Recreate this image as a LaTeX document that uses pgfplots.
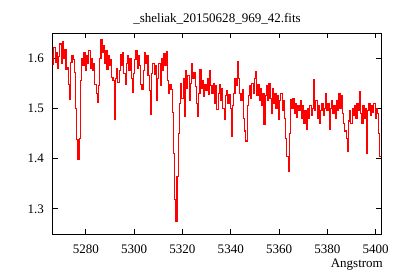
\documentclass[border=0pt]{standalone}
\usepackage{fontspec}
\setmainfont{Liberation Serif}
\usepackage{pgfplots}
\pgfplotsset{compat=1.18}
\usepackage{pgfplotstable}
\definecolor{specred}{RGB}{255,0,0}

% spectrum (wavelength in Angstrom, flux)
\pgfplotstableread{
lam flux
5266.0 1.605
5266.5 1.588
5267.0 1.622
5267.5 1.592
5268.0 1.612
5268.5 1.580
5269.0 1.603
5269.5 1.628
5270.0 1.590
5270.5 1.632
5271.0 1.600
5271.5 1.618
5272.0 1.578
5272.5 1.582
5273.0 1.547
5273.5 1.518
5274.0 1.592
5274.5 1.606
5275.0 1.598
5275.5 1.572
5276.0 1.500
5276.5 1.438
5277.0 1.398
5277.5 1.440
5278.0 1.555
5278.5 1.600
5279.0 1.585
5279.5 1.612
5280.0 1.575
5280.5 1.605
5281.0 1.590
5281.5 1.615
5282.0 1.580
5282.5 1.600
5283.0 1.575
5283.5 1.590
5284.0 1.548
5284.5 1.530
5285.0 1.512
5285.5 1.545
5286.0 1.600
5286.5 1.637
5287.0 1.612
5287.5 1.625
5288.0 1.590
5288.5 1.615
5289.0 1.578
5289.5 1.605
5290.0 1.585
5290.5 1.598
5291.0 1.562
5291.5 1.555
5292.0 1.478
5292.5 1.560
5293.0 1.580
5293.5 1.552
5294.0 1.575
5294.5 1.608
5295.0 1.585
5295.5 1.612
5296.0 1.570
5296.5 1.548
5297.0 1.590
5297.5 1.605
5298.0 1.575
5298.5 1.600
5299.0 1.560
5299.5 1.532
5300.0 1.570
5300.5 1.598
5301.0 1.615
5301.5 1.580
5302.0 1.605
5302.5 1.585
5303.0 1.548
5303.5 1.537
5304.0 1.575
5304.5 1.612
5305.0 1.590
5305.5 1.605
5306.0 1.565
5306.5 1.535
5307.0 1.488
5307.5 1.570
5308.0 1.590
5308.5 1.568
5309.0 1.585
5309.5 1.515
5310.0 1.560
5310.5 1.590
5311.0 1.545
5311.5 1.600
5312.0 1.575
5312.5 1.610
5313.0 1.585
5313.5 1.614
5314.0 1.555
5314.5 1.530
5315.0 1.548
5315.5 1.538
5316.0 1.492
5316.5 1.410
5317.0 1.318
5317.5 1.276
5318.0 1.365
5318.5 1.450
5319.0 1.510
5319.5 1.550
5320.0 1.520
5320.5 1.560
5321.0 1.484
5321.5 1.575
5322.0 1.540
5322.5 1.565
5323.0 1.515
5323.5 1.550
5324.0 1.590
5324.5 1.560
5325.0 1.572
5325.5 1.544
5326.0 1.510
5326.5 1.483
5327.0 1.530
5327.5 1.578
5328.0 1.540
5328.5 1.555
5329.0 1.524
5329.5 1.548
5330.0 1.535
5330.5 1.560
5331.0 1.528
5331.5 1.575
5332.0 1.545
5332.5 1.530
5333.0 1.550
5333.5 1.510
5334.0 1.545
5334.5 1.497
5335.0 1.530
5335.5 1.548
5336.0 1.515
5336.5 1.540
5337.0 1.500
5337.5 1.478
5338.0 1.525
5338.5 1.535
5339.0 1.510
5339.5 1.528
5340.0 1.500
5340.5 1.445
5341.0 1.505
5341.5 1.530
5342.0 1.560
5342.5 1.545
5343.0 1.594
5343.5 1.560
5344.0 1.530
5344.5 1.515
5345.0 1.537
5345.5 1.480
5346.0 1.455
5346.5 1.435
5347.0 1.505
5347.5 1.525
5348.0 1.545
5348.5 1.520
5349.0 1.550
5349.5 1.530
5350.0 1.560
5350.5 1.574
5351.0 1.525
5351.5 1.548
5352.0 1.515
5352.5 1.540
5353.0 1.505
5353.5 1.530
5354.0 1.468
5354.5 1.525
5355.0 1.545
5355.5 1.515
5356.0 1.550
5356.5 1.520
5357.0 1.490
5357.5 1.540
5358.0 1.510
5358.5 1.530
5359.0 1.500
5359.5 1.525
5360.0 1.478
5360.5 1.515
5361.0 1.530
5361.5 1.495
5362.0 1.515
5362.5 1.480
5363.0 1.440
5363.5 1.405
5364.0 1.374
5364.5 1.450
5365.0 1.518
5365.5 1.500
5366.0 1.520
5366.5 1.490
5367.0 1.510
5367.5 1.482
5368.0 1.505
5368.5 1.495
5369.0 1.515
5369.5 1.480
5370.0 1.505
5370.5 1.470
5371.0 1.495
5371.5 1.458
5372.0 1.500
5372.5 1.480
5373.0 1.505
5373.5 1.485
5374.0 1.500
5374.5 1.557
5375.0 1.495
5375.5 1.515
5376.0 1.480
5376.5 1.505
5377.0 1.470
5377.5 1.495
5378.0 1.510
5378.5 1.485
5379.0 1.500
5379.5 1.530
5380.0 1.495
5380.5 1.510
5381.0 1.458
5381.5 1.500
5382.0 1.515
5382.5 1.490
5383.0 1.505
5383.5 1.480
5384.0 1.515
5384.5 1.495
5385.0 1.530
5385.5 1.500
5386.0 1.525
5386.5 1.490
5387.0 1.470
5387.5 1.455
5388.0 1.440
5388.5 1.415
5389.0 1.475
5389.5 1.495
5390.0 1.470
5390.5 1.500
5391.0 1.485
5391.5 1.505
5392.0 1.480
5392.5 1.510
5393.0 1.495
5393.5 1.534
5394.0 1.490
5394.5 1.470
5395.0 1.505
5395.5 1.480
5396.0 1.500
5396.5 1.411
5397.0 1.495
5397.5 1.510
5398.0 1.485
5398.5 1.505
5399.0 1.492
5399.5 1.510
5400.0 1.480
5400.5 1.500
5401.0 1.490
5401.5 1.450
5402.0 1.405
5402.5 1.405
}\spectrum

\begin{document}
\fontsize{9.8}{11}\selectfont
\begin{tikzpicture}
\useasboundingbox (-39.4bp,-34.5bp) rectangle (260.6bp,175.5bp);
\begin{axis}[
    name=spec,
    at={(0,0)}, anchor=south west,
    width=246.7bp, height=150.75bp, scale only axis,
    xmin=5266.2, xmax=5402.4, ymin=1.25, ymax=1.65,
    xtick={5280,5300,5320,5340,5360,5380,5400},
    ytick={1.3,1.4,1.5,1.6},
    tick align=inside, major tick length=4bp,
    axis line style={line width=0.75bp},
    tick style={black, line width=0.75bp},
    /pgf/number format/assume math mode=true,
    xticklabel style={/pgf/number format/1000 sep={}},
    yticklabel style={/pgf/number format/fixed, /pgf/number format/precision=1, /pgf/number format/fixed zerofill},
    xticklabel shift=5bp, yticklabel shift=3bp,
    xlabel={Angstrom},
    xlabel style={at={(1,0)}, anchor=east, yshift=-23bp, xshift=4.5bp},
]
\addplot[draw=specred, line width=0.85bp, line join=miter, const plot mark mid] table[x=lam, y=flux] {\spectrum};
\end{axis}
\node[anchor=center] at ([yshift=11bp]spec.north) {\_sheliak\_20150628\_969\_42.fits};
\end{tikzpicture}
\end{document}
